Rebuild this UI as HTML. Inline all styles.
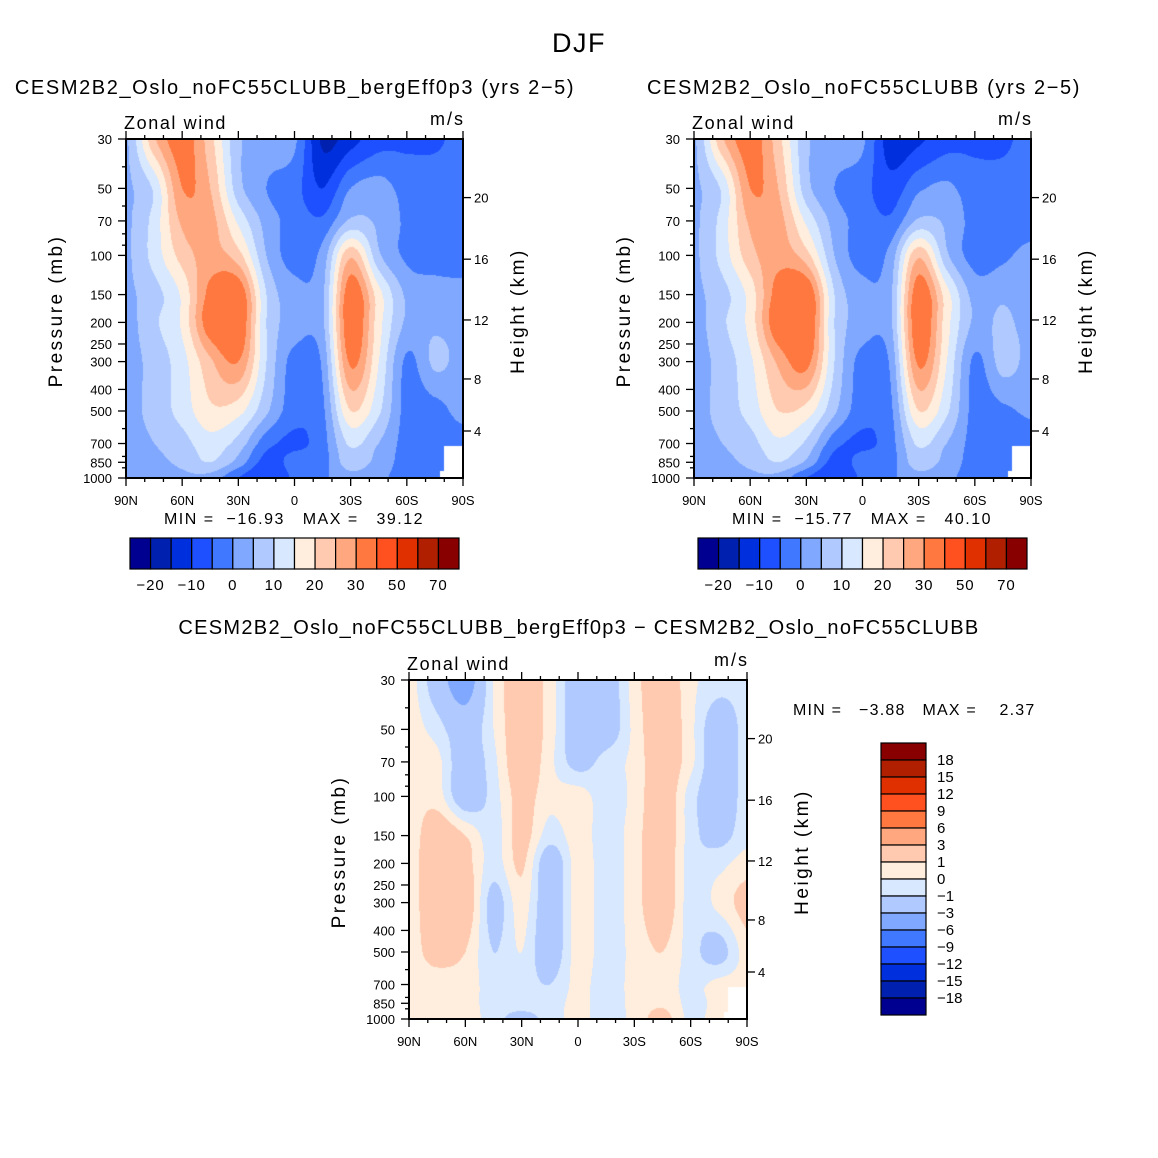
<!DOCTYPE html>
<html><head><meta charset="utf-8"><title>DJF Zonal wind</title>
<style>
html,body{margin:0;padding:0;background:#fff;}
#root{position:relative;width:1158px;height:1158px;overflow:hidden;font-family:"Liberation Sans",sans-serif;}
canvas{position:absolute;}
svg{position:absolute;left:0;top:0;}
</style></head>
<body>
<div id="root">
<canvas id="c1" style="left:126px;top:139px" width="337" height="339"></canvas>
<canvas id="c2" style="left:694px;top:139px" width="337" height="339"></canvas>
<canvas id="c3" style="left:409px;top:680px" width="338" height="339"></canvas>
<svg id="ov" width="1158" height="1158"></svg>
</div>
<script>
const lats=[90,75,60,45,30,15,0,-15,-30,-45,-60,-75,-90];
const levs=[30,50,70,100,150,200,300,500,700,850,1000];
const u1=[
[4,24,33,22,6,3,1,-16,-12,-7,-6,-6,-3],
[4,11,30,25,7,0,-3,-10,0,2,-2,-2,-2],
[4,12,26,27,14,3,-2,-4,6,4,-1,-3,-3],
[4,12,22,27,22,5,-2,2,24,6,-1,-3,-3],
[4,8,16,32,35,10,2,4,34,17,4,3,2],
[3,9,16,34,36,10,3,4,35,17,4,4,3],
[3,7,13,24,30,10,-2,1,31,15,-1,6,3],
[3,7,12,19,17,6,-3,-1,20,11,-2,-2,2],
[3,5,8,13,8,-3,-6,-2,11,5,-2,-3,-3],
[3,4,6,10,3,-7,-3,-2,8,3,-2,-3,-3],
[2,3,4,3,-5,-10,-4,-1,3,1,-2,-3,-3]];
const u2=[
[4,24,33,22,6,3,1,-13,-11,-7,-6,-6,-3],
[4,11,30,25,7,0,-3,-8,-1,1,-3,-3,-2],
[4,12,26,27,14,3,-2,-4,6,4,-2,-3,-3],
[4,12,23,28,22,5,-2,2,24,6,-2,-1,2],
[4,8,17,33,36,10,2,4,34,17,3,4,3],
[3,9,17,35,37,10,3,4,35,17,4,6,3],
[3,7,14,26,32,10,-2,1,31,15,-1,7,3],
[3,7,12,20,18,6,-3,-1,20,11,-2,-1,1],
[3,5,8,14,9,-3,-6,-2,11,5,-2,-3,-3],
[3,4,6,10,4,-7,-3,-2,8,3,-2,-3,-3],
[2,3,4,3,-5,-10,-4,-1,3,1,-2,-3,-3]];
const ud=[
[0.5,-2,-4,0,2,0.5,-2,-2,0.5,2,0.3,-0.5,-0.5],
[0.5,-0.5,-2,0,2,0.5,-2,-2,0.3,2,0.3,-2,-0.5],
[0.5,0.3,-2,-0.3,2,0.3,-1.5,-0.5,0.3,2,0.3,-2,-0.5],
[0.5,0.5,-2,-0.5,1.5,0.3,0.5,-0.5,0.3,2,-0.5,-2,-0.5],
[0.3,2,1,-0.5,1.5,-0.5,0.5,-0.5,0.5,2,-0.5,-1.5,-0.3],
[0.5,2,1.5,-0.5,1.2,-2,0.5,-0.5,0.5,2,-0.5,-0.3,0.5],
[0.5,2,2,-1.5,0.5,-2,0.5,-0.5,0.5,2,-0.5,0.3,1.5],
[0.5,1.5,1,-1,0,-2,0.5,-0.5,0.3,1,-0.5,-1.5,0.5],
[0.5,0.5,0.5,-0.5,-0.5,-1,0.3,-0.5,0.3,0.5,-0.3,0.3,0.5],
[0.5,0.5,0.5,-0.5,-0.5,-0.5,0.3,-0.5,0.3,0.8,-0.3,0.3,0.5],
[0.5,0.5,0.5,-0.5,-1.5,-0.5,0.3,-0.5,0.3,1.5,-0.3,0.5,0.5]];
const lv1=[-20,-15,-10,-5,0,5,10,15,20,25,30,40,50,60,70];
const lvd=[-18,-15,-12,-9,-6,-3,-1,0,1,3,6,9,12,15,18];
const lbl1=["−20","−10","0","10","20","30","50","70"];
const lbld=["18","15","12","9","6","3","1","0","−1","−3","−6","−9","−12","−15","−18"];
const pTicks=[30,50,70,100,150,200,250,300,400,500,700,850,1000];
const hTicks=[20,16,12,8,4];
const hTickP=[55,104,195,359,615];
const xLabs=["90N","60N","30N","0","30S","60S","90S"];
const cols=["#000090","#0020b0","#0030dd","#1e50ff","#4078ff","#80a8ff","#b0caff","#d8e8ff","#ffeedd","#ffcab0","#ffa880","#ff7840","#ff5020","#e03000","#b02000","#880000"];
const L=Math.log(1000/30);
function hex(c){return [parseInt(c.substr(1,2),16),parseInt(c.substr(3,2),16),parseInt(c.substr(5,2),16)];}
const rgb=cols.map(hex);
function cr(p0,p1,p2,p3,t){return 0.5*((2*p1)+(-p0+p2)*t+(2*p0-5*p1+4*p2-p3)*t*t+(-p0+3*p1-3*p2+p3)*t*t*t);}
function g2(g,r,c){r=Math.max(0,Math.min(g.length-1,r));c=Math.max(0,Math.min(g[0].length-1,c));return g[r][c];}
function sample(g,lat,p){
  let fi=(90-lat)/15; let i=Math.min(11,Math.floor(fi)); let a=fi-i;
  let k=0; while(k<9 && p>levs[k+1]) k++;
  let b=Math.log(p/levs[k])/Math.log(levs[k+1]/levs[k]); b=Math.max(0,Math.min(1,b));
  const rows=[];
  for(let r=-1;r<=2;r++){rows.push(cr(g2(g,k+r,i-1),g2(g,k+r,i),g2(g,k+r,i+1),g2(g,k+r,i+2),a));}
  return cr(rows[0],rows[1],rows[2],rows[3],b);
}
function draw(id,g,lv){
  const c=document.getElementById(id),ctx=c.getContext('2d'),w=c.width,h=c.height;
  const im=ctx.createImageData(w,h);
  for(let py=0;py<h;py++){const p=30*Math.exp((py+0.5)/h*L);
    for(let px=0;px<w;px++){const lat=90-180*(px+0.5)/w;
      let o=(py*w+px)*4; let col;
      if((lat<-80&&p>720)||(lat<-77.5&&p>930)) col=[255,255,255];
      else{const v=sample(g,lat,p);let n=0;while(n<lv.length&&v>=lv[n])n++;col=rgb[n];}
      im.data[o]=col[0];im.data[o+1]=col[1];im.data[o+2]=col[2];im.data[o+3]=255;}}
  ctx.putImageData(im,0,0);
}
draw('c1',u1,lv1);draw('c2',u2,lv1);draw('c3',ud,lvd);

const NS="http://www.w3.org/2000/svg",ov=document.getElementById('ov');
function el(t,a,txt){const e=document.createElementNS(NS,t);for(const k in a)e.setAttribute(k,a[k]);if(txt!==undefined)e.textContent=txt;ov.appendChild(e);return e;}
function text(x,y,s,size,anchor,name,ls){const e=el('text',{x:x,y:y,'font-size':size,'text-anchor':anchor||'middle','font-family':'Liberation Sans, sans-serif',fill:'#000','letter-spacing':ls||0},s);

e.style.whiteSpace='pre';return e;}
function line(x1,y1,x2,y2,name,sw){const e=el('line',{x1:x1,y1:y1,x2:x2,y2:y2,stroke:'#000','stroke-width':sw||1.3});

return e;}

function axes(x0,y0,w,h,pre){
  const r=el('rect',{x:x0,y:y0,width:w,height:h,fill:'none',stroke:'#000','stroke-width':2});
  
  
  const yOf=p=>y0+h*Math.log(p/30)/L, xOf=lat=>x0+w*(90-lat)/180;
  pTicks.forEach(p=>{const y=yOf(p);line(x0-8,y,x0,y,pre+'-y-tick');text(x0-14,y+5,String(p),13,'end',pre+'-y-tick-label');});
  [40,60,80,90,600,800,900].forEach(p=>{line(x0-4,yOf(p),x0,yOf(p),pre+'-y-minor-tick');});
  hTicks.forEach((hk,i)=>{const y=yOf(hTickP[i]);line(x0+w,y,x0+w+8,y,pre+'-right-tick');text(x0+w+11,y+5,String(hk),13,'start',pre+'-height-tick-label');});
  for(let lat=90;lat>=-90;lat-=10){const x=xOf(lat);const maj=(lat%30===0);
    line(x,y0+h,x,y0+h+(maj?8:4),pre+'-x-tick');line(x,y0,x,y0-(maj?8:4),pre+'-top-tick');}
  xLabs.forEach((s,i)=>text(xOf(90-30*i),y0+h+27,s,13,'middle',pre+'-x-tick-label'));
  text(x0-2,y0-10,'Zonal wind',18,'start',pre+'-zonal-wind-label',1.6);
  text(x0+w+2,y0-14,'m/s',18,'end',pre+'-units-label',2);
  const t1=text(0,0,'Pressure (mb)',19,'middle',pre+'-y-axis-title',2.5);t1.setAttribute('transform','translate('+(x0-64)+','+(y0+172)+') rotate(-90)');
  const t2=text(0,0,'Height (km)',19,'middle',pre+'-right-axis-title',2.5);t2.setAttribute('transform','translate('+(x0+w+61)+','+(y0+172)+') rotate(-90)');
}
axes(126,139,337,339,'panel1');axes(694,139,337,339,'panel2');axes(409,680,338,339,'panel3');

text(579,52,'DJF',27,'middle','figure-title',1.5);
text(295,94,'CESM2B2_Oslo_noFC55CLUBB_bergEff0p3 (yrs 2−5)',20,'middle','panel1-title',1.6);
text(864,94,'CESM2B2_Oslo_noFC55CLUBB (yrs 2−5)',20,'middle','panel2-title',1.6);
text(579,634,'CESM2B2_Oslo_noFC55CLUBB_bergEff0p3 − CESM2B2_Oslo_noFC55CLUBB',20,'middle','panel3-title',1.3);
text(294,524,'MIN =  −16.93   MAX =   39.12',16,'middle','panel1-min-max',1.5);
text(862,524,'MIN =  −15.77   MAX =   40.10',16,'middle','panel2-min-max',1.5);
text(793,715,'MIN =   −3.88   MAX =    2.37',16,'start','panel3-min-max',1.2);

function hbar(x0,y0,w,h,pre){
  const bw=w/16;
  cols.forEach((c,i)=>{const r=el('rect',{x:x0+i*bw,y:y0,width:bw,height:h,fill:c,stroke:'#000','stroke-width':1.2});
    
    });
  lbl1.forEach((s,i)=>text(x0+(1+2*i)*bw,y0+h+21,s,15,'middle',pre+'-label',1));
}
hbar(130,538,329,31,'colorbar1');hbar(698,538,329,31,'colorbar2');
(function(){const x0=881,y0=743,w=45,bh=17;
  for(let i=0;i<16;i++){const r=el('rect',{x:x0,y:y0+i*bh,width:w,height:bh,fill:cols[15-i],stroke:'#000','stroke-width':1.2});
    
    }
  lbld.forEach((s,i)=>text(x0+56,y0+(i+1)*bh+5,s,15,'start','colorbar3-label'));
})();
</script>
</body></html>
